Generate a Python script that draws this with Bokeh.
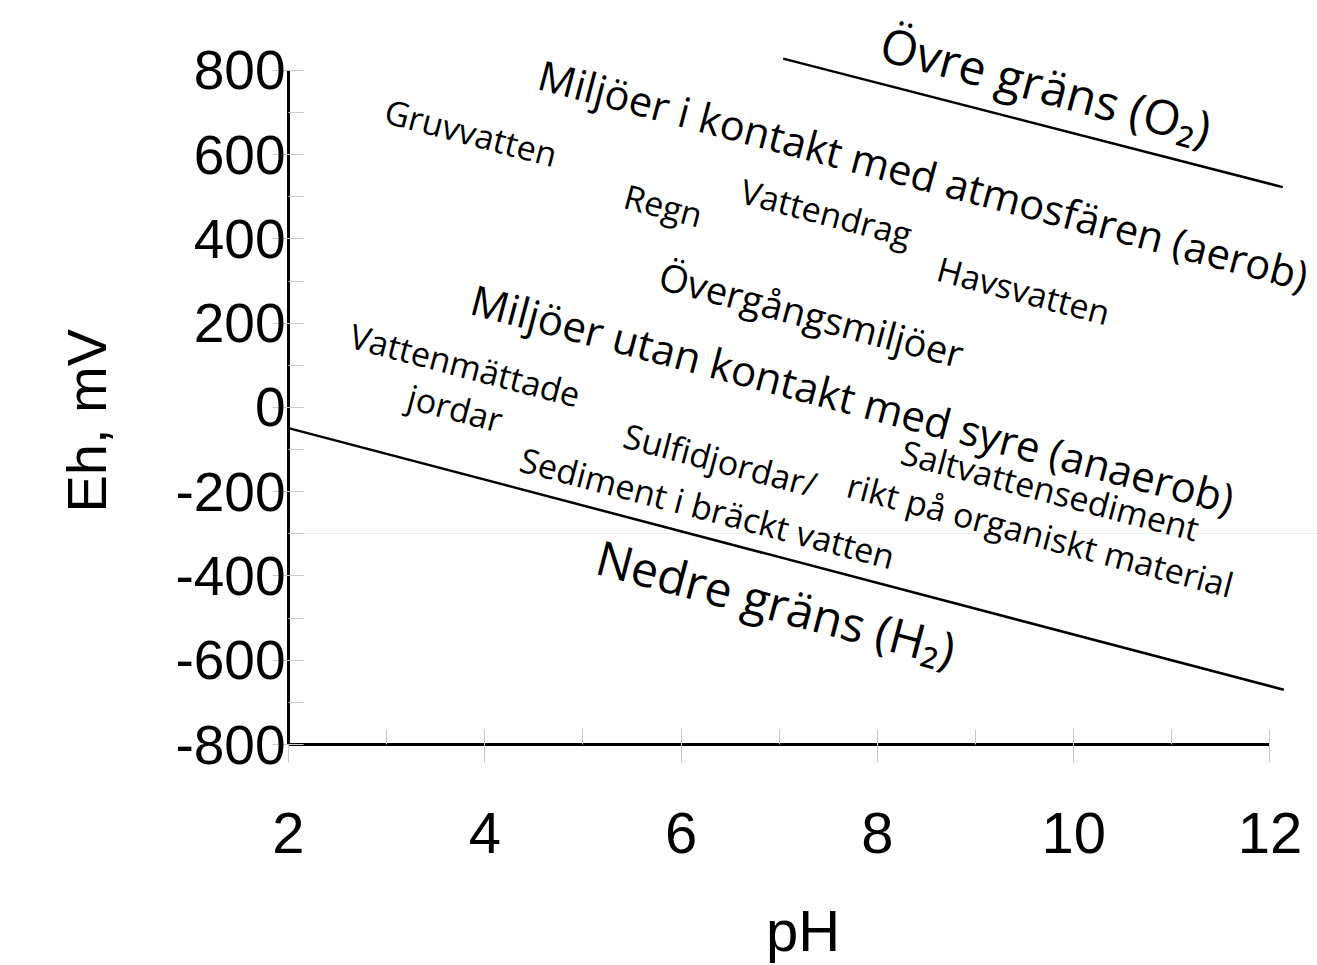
from bokeh.plotting import figure
from bokeh.models import ColumnDataSource, FixedTicker, Title, PrintfTickFormatter
from bokeh.core.properties import value
from bokeh.embed import file_html
from bokeh.resources import INLINE

# ---- data ----
ph_ticks = [2, 4, 6, 8, 10, 12]
ph_minor = [3, 5, 7, 9, 11]
eh_ticks = [-800, -600, -400, -200, 0, 200, 400, 600, 800]
eh_minor = [-700, -500, -300, -100, 100, 300, 500, 700]

upper_ph = [7.04, 12.13]
upper_eh = [828, 523]
lower_ph = [2.0, 12.14]
lower_eh = [-49, -670]

big_labels = ["Övre gräns (O₂)",
              "Miljöer i kontakt med atmosfären (aerob)",
              "Miljöer utan kontakt med syre (anaerob)",
              "Nedre gräns (H₂)"]
big_ph = [9.72, 8.47, 7.75, 6.97]
big_eh = [765, 553, 22, -463]
big_size = ["48px", "41.5px", "42px", "48px"]

small_labels = ["Gruvvatten", "Regn", "Vattendrag", "Havsvatten", "Övergångsmiljöer",
                "Vattenmättade", "jordar", "Sulfidjordar/", "Sediment i bräckt vatten",
                "Saltvattensediment", "rikt på organiskt material"]
small_ph = [3.86, 5.82, 7.48, 9.49, 7.33, 3.80, 3.70, 6.40, 6.27, 9.76, 9.66]
small_eh = [653, 480, 463, 278, 222, 101, -1, -124, -238, -196, -302]
small_size = ["34px", "34px", "34px", "34px", "38px",
              "34px", "34px", "34px", "34px", "34px", "34px"]

ANGLE = -0.258
TXT_FONT = "Open Sans"
AX_FONT = "Liberation Sans"

p = figure(width=1317, height=965, x_range=(2, 12.484), y_range=(-800, 954.1),
           output_backend="svg", toolbar_location=None, title=None,
           min_border_left=288, min_border_right=0, min_border_top=5,
           min_border_bottom=220)
p.outline_line_color = None
p.background_fill_color = "white"
p.border_fill_color = "white"

p.xgrid.visible = False
p.ygrid.ticker = FixedTicker(ticks=[-300])
p.ygrid.grid_line_color = "#ececec"
p.ygrid.bounds = (2, 12)

for ax in (p.xaxis[0], p.yaxis[0]):
    ax.axis_line_color = "black"
    ax.axis_line_width = 3
    ax.major_tick_line_color = "#c8c8c8"
    ax.minor_tick_line_color = "#c8c8c8"
    ax.major_tick_line_width = 1
    ax.minor_tick_line_width = 1
    ax.major_tick_in = 15
    ax.minor_tick_in = 15
    ax.minor_tick_out = 0
    ax.major_label_text_font = AX_FONT
    ax.major_label_text_color = "black"
    ax.formatter = PrintfTickFormatter(format="%d")

xa = p.xaxis[0]
xa.ticker = FixedTicker(ticks=ph_ticks, minor_ticks=ph_minor)
xa.bounds = (2, 12)
xa.major_tick_out = 18
xa.major_label_text_font_size = "58px"
xa.major_label_standoff = 50
xa.axis_label = "pH"
xa.axis_label_text_font = AX_FONT
xa.axis_label_text_font_size = "58px"
xa.axis_label_text_font_style = "normal"
xa.axis_label_text_color = "black"
xa.axis_label_standoff = 42

ya = p.yaxis[0]
ya.ticker = FixedTicker(ticks=eh_ticks, minor_ticks=eh_minor)
ya.bounds = (-800, 800)
ya.major_tick_out = 16
ya.major_label_text_font_size = "55px"
ya.major_label_standoff = -13

# y axis title
p.add_layout(Title(text="Eh, mV", align="left", vertical_align="top",
                   offset=232, standoff=106,
                   text_font=AX_FONT, text_font_size="56px",
                   text_font_style="normal", text_color="black"), "left")

# boundary lines
p.line(upper_ph, upper_eh, line_color="black", line_width=2.5)
p.line(lower_ph, lower_eh, line_color="black", line_width=2.5)

big_src = ColumnDataSource(dict(x=big_ph, y=big_eh, t=big_labels, s=big_size))
small_src = ColumnDataSource(dict(x=small_ph, y=small_eh, t=small_labels, s=small_size))

p.text(x="x", y="y", text="t", source=big_src, angle=ANGLE,
       text_font=value(TXT_FONT), text_font_size="s", text_color="black",
       text_align="center", text_baseline="middle")
p.text(x="x", y="y", text="t", source=small_src, angle=ANGLE,
       text_font=value(TXT_FONT), text_font_size="s", text_color="black",
       text_align="center", text_baseline="middle")

open("out.html", "w").write(file_html(p, INLINE))
